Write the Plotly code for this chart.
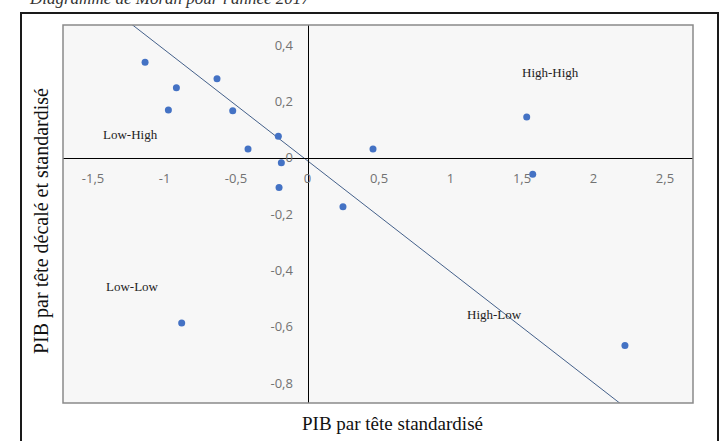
import plotly.graph_objects as go

# Data (standardised GDP per head vs spatially lagged)
pib_std = [-1.136, -0.917, -0.973, -0.633, -0.523, -0.416, -0.204, -0.183,
           -0.199, 0.248, 0.458, 1.533, 1.575, -0.880, 2.220]
pib_lag = [0.339, 0.248, 0.169, 0.280, 0.167, 0.031, 0.076, -0.018,
           -0.106, -0.174, 0.031, 0.144, -0.059, -0.587, -0.667]

trend_slope = -0.394
trend_intercept = -0.011

x_tick_vals = [-1.5, -1, -0.5, 0, 0.5, 1, 1.5, 2, 2.5]
x_tick_text = ["-1,5", "-1", "-0,5", "0", "0,5", "1", "1,5", "2", "2,5"]
y_tick_vals = [-0.8, -0.6, -0.4, -0.2, 0, 0.2, 0.4]
y_tick_text = ["-0,8", "-0,6", "-0,4", "-0,2", "0", "0,2", "0,4"]

quadrant_labels = ["High-High", "Low-High", "Low-Low", "High-Low"]
quadrant_x = [1.696, -1.241, -1.227, 1.311]
quadrant_y = [0.301, 0.084, -0.459, -0.558]

x_range = [-1.710, 2.696]
y_range = [-0.871, 0.471]

title_text = "Diagramme de Moran pour l'année 2017"
x_title = "PIB par tête standardisé"
y_title = "PIB par tête décalé et standardisé"

fig = go.Figure()

# trend line across the plot range
line_x = [x_range[0], x_range[1]]
line_y = [trend_intercept + trend_slope * v for v in line_x]
fig.add_trace(go.Scatter(x=line_x, y=line_y, mode="lines",
                         line=dict(color="#44608a", width=1),
                         hoverinfo="skip", showlegend=False))

fig.add_trace(go.Scatter(x=pib_std, y=pib_lag, mode="markers",
                         marker=dict(color="#4472C4", size=7),
                         showlegend=False))

xpos = (0 - y_range[0]) / (y_range[1] - y_range[0])
ypos = (0 - x_range[0]) / (x_range[1] - x_range[0])

tick_font = dict(family="Open Sans, Liberation Sans, sans-serif", size=13, color="#727272")

fig.update_layout(
    width=721, height=441,
    margin=dict(l=63, r=28, t=25, b=38),
    paper_bgcolor="white",
    plot_bgcolor="#f7f7f7",
    showlegend=False,
    xaxis=dict(range=x_range, anchor="free", position=xpos,
               tickvals=x_tick_vals, ticktext=x_tick_text,
               showgrid=False, zeroline=False, showline=True,
               linecolor="black", linewidth=1, ticks="",
               tickfont=tick_font, ticklabelstandoff=9),
    yaxis=dict(range=y_range, anchor="free", position=ypos,
               tickvals=y_tick_vals, ticktext=y_tick_text,
               showgrid=False, zeroline=False, showline=True,
               linecolor="black", linewidth=1, ticks="",
               tickfont=tick_font, ticklabelstandoff=12),
)

# plot area border
fig.add_shape(type="rect", xref="paper", yref="paper", x0=0, y0=0, x1=1, y1=1,
              line=dict(color="#8a8a8a", width=1.5))
# outer chart frame
fig.add_shape(type="rect", xref="paper", yref="paper",
              x0=(21 - 63) / 630, x1=(718 - 63) / 630,
              y0=(403 - 450) / 378, y1=1 + (25 - 13) / 378,
              line=dict(color="#1a1a1a", width=2))

serif = "Liberation Serif, Times New Roman, serif"
for lab, qx, qy in zip(quadrant_labels, quadrant_x, quadrant_y):
    fig.add_annotation(x=qx, y=qy, text=lab, showarrow=False,
                       font=dict(family=serif, size=13, color="#222222"))

fig.add_annotation(xref="paper", yref="paper", x=(392 - 63) / 630, y=-(423 - 403) / 378,
                   text=x_title, showarrow=False, yanchor="middle",
                   font=dict(family=serif, size=19, color="#111111"))
fig.add_annotation(xref="paper", yref="paper", x=-(63 - 41) / 630, y=(403 - 221) / 378,
                   text=y_title, showarrow=False, textangle=-90, xanchor="center",
                   font=dict(family=serif, size=20, color="#111111"))
fig.add_annotation(xref="paper", yref="paper", x=(27 - 63) / 630, y=1 + (25 + 2) / 378,
                   text="<i>" + title_text + "</i>", showarrow=False,
                   xanchor="left", yanchor="middle",
                   font=dict(family=serif, size=17, color="#333333"))

fig.write_html("out.html", config={"displayModeBar": False},
               post_script="document.body.style.margin='0';")
